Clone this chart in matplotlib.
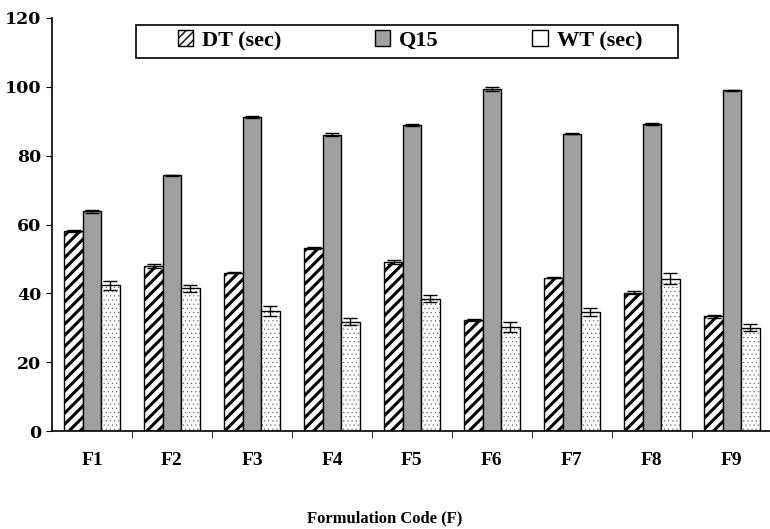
import numpy as np
import matplotlib.pyplot as plt
import matplotlib.patches as mpatches

# data
formulations = ["F1", "F2", "F3", "F4", "F5", "F6", "F7", "F8", "F9"]
dt = [58.0, 48.0, 46.0, 53.2, 49.2, 32.3, 44.6, 40.2, 33.3]
dt_err = [0.3, 0.6, 0.2, 0.2, 0.6, 0.2, 0.2, 0.4, 0.4]
q15 = [63.8, 74.3, 91.2, 86.1, 88.9, 99.3, 86.4, 89.2, 99.0]
q15_err = [0.5, 0.2, 0.3, 0.4, 0.3, 0.6, 0.2, 0.3, 0.2]
wt = [42.3, 41.5, 34.8, 31.8, 38.5, 30.3, 34.5, 44.3, 30.1]
wt_err = [1.2, 1.0, 1.5, 1.0, 1.0, 1.5, 1.2, 1.7, 1.0]

plt.rcParams['font.family'] = ['Liberation Serif', 'DejaVu Serif']
plt.rcParams['font.weight'] = 'bold'

fig = plt.figure(figsize=(7.7, 5.29), dpi=100)
ax = fig.add_axes([0.0675, 0.185, 0.935, 0.781])

x = np.arange(len(formulations)) + 0.5
w = 0.23
ek = dict(ecolor='black', elinewidth=1, capsize=5, capthick=1)

b1 = ax.bar(x - w, dt, w, yerr=dt_err, color='white', edgecolor='black',
            hatch='///', linewidth=1, error_kw=ek)
for p in b1:
    if hasattr(p, 'set_hatch_linewidth'):
        p.set_hatch_linewidth(2.2)
ax.bar(x, q15, w, yerr=q15_err, color='#a0a0a0', edgecolor='black',
       linewidth=1, error_kw=ek)
# dotted fill for WT, then the black outline on top
b3 = ax.bar(x + w, wt, w, color='white', edgecolor='#555555',
            hatch='....', linewidth=0)
for p in b3:
    if hasattr(p, 'set_hatch_linewidth'):
        p.set_hatch_linewidth(0.3)
ax.bar(x + w, wt, w, yerr=wt_err, fill=False, edgecolor='black',
       linewidth=1, error_kw=ek)

# legend handles
h1 = mpatches.Patch(facecolor='white', edgecolor='black', hatch='////', label='DT (sec)')
h2 = mpatches.Patch(facecolor='#a0a0a0', edgecolor='black', label='Q15')
h3 = mpatches.Patch(facecolor='white', edgecolor='black', label='WT (sec)')

ax.set_xlim(0, 9)
ax.set_ylim(0, 120)
ax.set_yticks(range(0, 121, 20))
ax.set_xticks(x)
ax.set_xticklabels(formulations, fontsize=14, fontweight='bold')
ax.set_xticks(np.arange(1, 9), minor=True)
ax.tick_params(axis='x', which='major', length=0, pad=15)
ax.tick_params(axis='x', which='minor', length=5, direction='out')
ax.tick_params(axis='y', length=4)
ax.set_yticklabels([str(v) for v in range(0, 121, 20)],
                   fontsize=12.5, fontweight='bold', family='DejaVu Serif')
ax.spines['top'].set_visible(False)
ax.spines['right'].set_visible(False)
ax.spines['left'].set_linewidth(1.2)
ax.spines['bottom'].set_linewidth(1.2)

leg = ax.legend(handles=[h1, h2, h3], loc='center',
                bbox_to_anchor=(0.497, 0.945), ncol=3, frameon=False,
                prop={'size': 16, 'weight': 'bold'}, handlelength=0.7,
                handleheight=0.7, columnspacing=4.2, borderpad=0.2,
                handletextpad=0.4)

# legend box, wider than the entries
fig.patches.append(mpatches.Rectangle((136 / 770, 1 - 58 / 529), 542 / 770,
                                      33 / 529, transform=fig.transFigure,
                                      fill=False, edgecolor='black',
                                      linewidth=1.2, zorder=5))

fig.text(0.5, 0.012, 'Formulation Code (F)', ha='center', va='baseline',
         fontsize=12, fontweight='bold')

fig.savefig('out.png', dpi=100)
